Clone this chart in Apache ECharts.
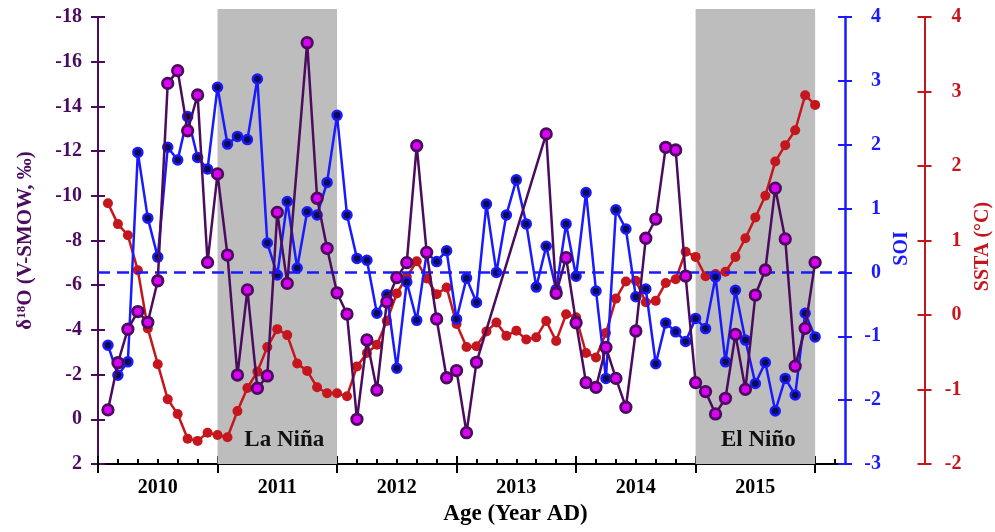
<!DOCTYPE html>
<html>
<head>
<meta charset="utf-8">
<style>
  html, body { margin: 0; padding: 0; background: #fff; }
  #chart { width: 995px; height: 532px; }
</style>
<script src="https://cdn.jsdelivr.net/npm/echarts@6/dist/echarts.min.js"></script>
</head>
<body>
<div id="chart"></div>
<script>
// months counted from the start of 2010 (1 = Jan 2010 ... 72 = Dec 2015)
var years = ['2010', '2011', '2012', '2013', '2014', '2015']

// SOI, monthly
var soiValues = [
  -1.14, -1.61, -1.40, 1.88, 0.85, 0.24, 1.96, 1.76, 2.44, 1.80, 1.62, 2.90,
  2.01, 2.13, 2.08, 3.03, 0.46, -0.04, 1.11, 0.07, 0.95, 0.90, 1.41, 2.46,
  0.90, 0.22, 0.19, -0.64, -0.35, -1.50, -0.15, -0.75, 0.30, 0.17, 0.34, -0.73,
  -0.09, -0.47, 1.07, 0.00, 0.90, 1.45, 0.76, -0.23, 0.41, -0.27, 0.76, -0.06,
  1.25, -0.29, -1.66, 0.98, 0.68, -0.38, -0.26, -1.43, -0.79, -0.93, -1.08, -0.72,
  -0.88, -0.07, -1.40, -0.28, -1.06, -1.74, -1.41, -2.17, -1.66, -1.92, -0.64, -1.01
]

// SSTA (°C), monthly
var sstaValues = [
  1.50, 1.22, 1.07, 0.60, -0.18, -0.66, -1.13, -1.33, -1.66, -1.69, -1.58, -1.61,
  -1.64, -1.29, -0.98, -0.76, -0.43, -0.19, -0.27, -0.65, -0.75, -0.97, -1.05, -1.05,
  -1.09, -0.69, -0.51, -0.40, -0.08, 0.29, 0.51, 0.72, 0.49, 0.28, 0.37, -0.12,
  -0.43, -0.42, -0.22, -0.10, -0.28, -0.21, -0.33, -0.30, -0.08, -0.35, 0.01, -0.03,
  -0.51, -0.57, -0.24, 0.22, 0.45, 0.46, 0.17, 0.19, 0.43, 0.48, 0.85, 0.78,
  0.52, 0.55, 0.58, 0.78, 1.03, 1.31, 1.60, 2.06, 2.28, 2.48, 2.95, 2.82
]

// d18O samples (not every month)
var d18oMonths = [
  1, 2, 3, 4, 5, 6, 7, 8, 9, 10, 11, 12, 13, 14, 15, 16, 17, 18, 19,
  21, 22, 23, 24, 25, 26, 27, 28, 29, 30, 31, 32, 33, 34, 35, 36, 37, 38,
  45, 46, 47, 48, 49, 50, 51, 52, 53, 54, 55, 56, 57, 58, 59, 60,
  61, 62, 63, 64, 65, 66, 67, 68, 69, 70, 71, 72
]
var d18oValues = [
  -0.42, -2.53, -4.03, -4.82, -4.34, -6.20, -15.03, -15.60, -12.91, -14.51, -7.02, -10.98, -7.35, -1.98, -5.79, -1.39, -1.94, -9.26, -6.08,
  -16.85, -9.89, -7.65, -5.66, -4.71, 0.00, -3.55, -1.31, -5.26, -6.34, -7.01, -12.24, -7.47, -4.49, -1.86, -2.18, 0.60, -2.55,
  -12.77, -5.64, -7.23, -4.32, -1.64, -1.43, -3.22, -1.83, -0.54, -3.95, -8.10, -8.96, -12.17, -12.05, -6.41, -1.64,
  -1.24, -0.24, -0.94, -3.80, -1.34, -5.56, -6.68, -10.34, -8.07, -2.38, -4.07, -7.02
]

var laNina = [12, 24]
var elNino = [60, 72]

var FONT = '"Liberation Serif", "Times New Roman", serif'
var PURPLE = '#4b0b5e'
var BLUE = '#1a1aff'
var RED = '#c4161c'

function monthly(values) {
  return values.map(function(v, i) { return [i + 1, v] })
}
function pairs(xs, ys) {
  return ys.map(function(y, i) { return [xs[i], y] })
}

var yearStarts = []
var yearMids = []
var minorTicks = []
for (var m = 0; m <= 74; m += 2) {
  if (m % 12 === 0) yearStarts.push(m)
  else minorTicks.push(m)
  if (m % 12 === 6) yearMids.push(m)
}

function xBase(extra) {
  var ax = {
    type: 'value', min: 0, max: 75, gridIndex: 0, position: 'bottom',
    splitLine: { show: false },
    axisLine: { show: false, onZero: false },
    axisLabel: { show: false },
    axisTick: { show: false }
  }
  return Object.assign(ax, extra)
}

function yBase(extra) {
  var ax = {
    type: 'value', gridIndex: 0,
    splitLine: { show: false },
    axisLabel: { show: false },
    axisLine: { show: false, onZero: false }
  }
  return Object.assign(ax, extra)
}

var tickStyle = function(color, inside) {
  return { show: true, inside: inside, length: 7, lineStyle: { color: color, width: 2 } }
}

var labelStyle = function(color) {
  return { fontFamily: FONT, fontWeight: 'bold', fontSize: 20, color: color }
}

var chart = echarts.init(document.getElementById('chart'))

chart.setOption({
  animation: false,
  backgroundColor: '#fff',
  grid: [
    { left: 98, right: 150, top: 17, bottom: 68, outerBoundsMode: 'none', containLabel: false },
    // band grid: the shaded ENSO periods reach a little above the top tick
    { left: 98, right: 150, top: 9, bottom: 68, outerBoundsMode: 'none', containLabel: false }
  ],
  xAxis: [
    xBase({
      axisLine: { show: true, onZero: false, lineStyle: { color: '#000', width: 2 } },
      axisTick: { show: true, inside: true, length: 5, customValues: minorTicks, lineStyle: { color: '#000', width: 2 } },
      axisLabel: Object.assign({
        show: true, margin: 14, customValues: yearMids,
        formatter: function(v) { return years[(v - 6) / 12] }
      }, labelStyle('#000')),
      name: 'Age (Year AD)',
      nameLocation: 'middle',
      nameGap: 37,
      nameTextStyle: { fontFamily: FONT, fontWeight: 'bold', fontSize: 23, color: '#000', padding: [0, 0, 0, 88] }
    }),
    xBase({ axisTick: { show: true, inside: true, length: 8, customValues: yearStarts, lineStyle: { color: '#000', width: 2 } } }),
    xBase({ axisTick: { show: true, inside: false, length: 9, customValues: yearStarts, lineStyle: { color: '#000', width: 2 } } }),
    xBase({ gridIndex: 1, show: false })
  ],
  yAxis: [
    yBase({
      position: 'left', inverse: true, min: -18, max: 2, interval: 2,
      axisLine: { show: true, onZero: false, lineStyle: { color: PURPLE, width: 2 } },
      axisTick: tickStyle(PURPLE, false),
      axisLabel: Object.assign({ show: true, margin: 16 }, labelStyle(PURPLE)),
      name: '{a|δ}{s|18}{a|O (V-SMOW, ‰)}',
      nameLocation: 'middle',
      nameRotate: 90,
      nameGap: 62,
      nameTextStyle: {
        rich: {
          a: { fontFamily: FONT, fontWeight: 'bold', fontSize: 21, color: PURPLE },
          s: { fontFamily: FONT, fontWeight: 'bold', fontSize: 13, color: PURPLE, verticalAlign: 'top' }
        }
      }
    }),
    yBase({ position: 'left', inverse: true, min: -18, max: 2, interval: 2, axisTick: tickStyle(PURPLE, true) }),
    yBase({
      position: 'right', min: -3, max: 4, interval: 1,
      axisLine: { show: true, onZero: false, lineStyle: { color: BLUE, width: 2.5 } },
      axisTick: tickStyle(BLUE, false),
      axisLabel: Object.assign({ show: true, margin: 36, align: 'right' }, labelStyle(BLUE)),
      name: 'SOI',
      nameLocation: 'middle',
      nameRotate: 90,
      nameGap: 41,
      nameTextStyle: Object.assign({ padding: [0, 16, 0, 0] }, labelStyle(BLUE))
    }),
    yBase({ position: 'right', min: -3, max: 4, interval: 1, axisTick: tickStyle(BLUE, true) }),
    yBase({
      position: 'right', offset: 79.5, min: -2, max: 4, interval: 1,
      axisLine: { show: true, onZero: false, lineStyle: { color: RED, width: 2 } },
      axisTick: tickStyle(RED, false),
      axisLabel: Object.assign({ show: true, margin: 37, align: 'right' }, labelStyle(RED)),
      name: 'SSTA (°C)',
      nameLocation: 'middle',
      nameRotate: 90,
      nameGap: 47,
      nameTextStyle: Object.assign({ padding: [0, 12, 0, 0] }, labelStyle(RED))
    }),
    yBase({ position: 'right', offset: 79.5, min: -2, max: 4, interval: 1, axisTick: tickStyle(RED, true) }),
    yBase({ gridIndex: 1, min: 0, max: 1, show: false })
  ],
  series: [
    {
      name: 'ENSO',
      type: 'line',
      xAxisIndex: 3,
      yAxisIndex: 6,
      data: [],
      z: 0,
      markArea: {
        silent: true,
        itemStyle: { color: '#bdbdbd' },
        label: {
          show: true, position: 'insideBottom', distance: 12,
          fontFamily: FONT, fontWeight: 'bold', fontSize: 23, color: '#111'
        },
        data: [
          [{ name: 'La Niña', xAxis: laNina[0], yAxis: 0, label: { offset: [7, 0] } }, { xAxis: laNina[1], yAxis: 1 }],
          [{ name: 'El Niño', xAxis: elNino[0], yAxis: 0, label: { offset: [3, 0] } }, { xAxis: elNino[1], yAxis: 1 }]
        ]
      }
    },
    {
      name: 'SSTA',
      type: 'line',
      xAxisIndex: 0,
      yAxisIndex: 4,
      data: monthly(sstaValues),
      z: 3,
      symbol: 'circle',
      symbolSize: 10,
      lineStyle: { color: RED, width: 2.5 },
      itemStyle: { color: RED }
    },
    {
      name: 'SOI',
      type: 'line',
      xAxisIndex: 0,
      yAxisIndex: 2,
      data: monthly(soiValues),
      z: 4,
      symbol: 'circle',
      symbolSize: 9,
      lineStyle: { color: BLUE, width: 2.5 },
      itemStyle: { color: '#0c0c50', borderColor: BLUE, borderWidth: 2.5 },
      markLine: {
        silent: true,
        symbol: 'none',
        label: { show: false },
        lineStyle: { color: BLUE, type: [12, 7], width: 2.5 },
        data: [{ yAxis: 0 }]
      }
    },
    {
      name: 'd18O',
      type: 'line',
      xAxisIndex: 0,
      yAxisIndex: 0,
      data: pairs(d18oMonths, d18oValues),
      z: 5,
      symbol: 'circle',
      symbolSize: 10.5,
      lineStyle: { color: PURPLE, width: 2.5 },
      itemStyle: { color: '#dc00f4', borderColor: PURPLE, borderWidth: 2.8 }
    }
  ]
})
</script>
</body>
</html>
